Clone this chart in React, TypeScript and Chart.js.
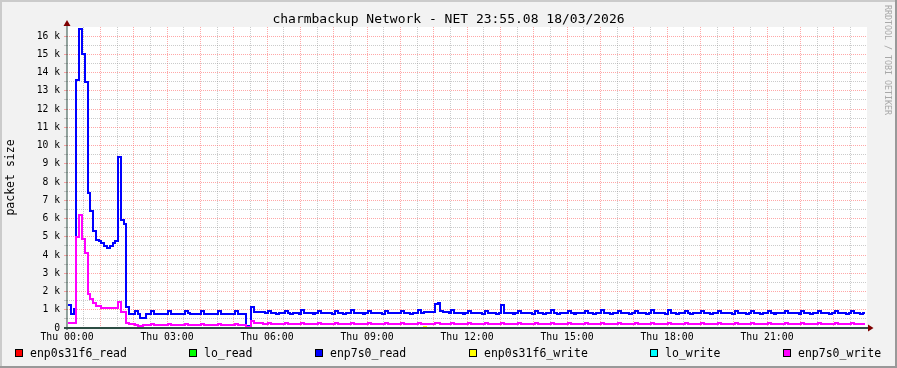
import React, { useEffect, useRef } from 'react';
import { Chart, registerables } from 'chart.js';

Chart.register(...registerables);

const TITLE = 'charmbackup Network - NET 23:55.08 18/03/2026';
const Y_TITLE = 'packet size';
const WATERMARK = 'RRDTOOL / TOBI OETIKER';

const SERIES_NAMES = ['enp0s31f6_read', 'lo_read', 'enp7s0_read', 'enp0s31f6_write', 'lo_write', 'enp7s0_write'];
const SERIES_COLORS = ['#FF0000', '#00FF00', '#0000FF', '#FFFF00', '#00FFFF', '#FF00FF'];

const X_TICK_LABELS = ['Thu 00:00', 'Thu 03:00', 'Thu 06:00', 'Thu 09:00', 'Thu 12:00', 'Thu 15:00', 'Thu 18:00', 'Thu 21:00'];
const X_MIN = 0;
const X_MAX = 1440; // minutes in the day
const Y_MIN = 0;
const Y_MAX = 16500;

// 5-minute samples (minutes from Thu 00:00)
const SAMPLE_START_MIN = 2;
const SAMPLE_STEP_MIN = 5;

// enp7s0_read, one row per hour (12 samples)
const ENP7S0_READ = [
  1250, 750, 1050, 13600, 16400, 15000, 13500, 7400, 6400, 5300, 4850, 4750,
  4650, 4500, 4400, 4500, 4650, 4750, 9400, 5900, 5700, 1150, 780, 760,
  950, 760, 550, 550, 780, 770, 930, 780, 760, 790, 780, 770,
  930, 780, 790, 760, 780, 790, 940, 800, 780, 760, 790, 780,
  930, 790, 780, 770, 790, 780, 940, 790, 780, 760, 770, 790,
  930, 780, 790, 780, 100, 100, 1150, 880, 880, 870, 860, 800,
  950, 800, 800, 790, 800, 800, 940, 800, 790, 800, 800, 790,
  1000, 810, 800, 800, 790, 800, 940, 800, 800, 810, 800, 790,
  940, 800, 800, 790, 800, 800, 990, 810, 800, 800, 790, 800,
  940, 800, 810, 800, 800, 790, 940, 800, 800, 810, 800, 800,
  940, 800, 800, 790, 800, 800, 990, 820, 850, 850, 860, 850,
  1300, 1380, 950, 880, 880, 820, 960, 810, 800, 800, 790, 800,
  940, 800, 800, 810, 800, 790, 940, 800, 800, 800, 790, 800,
  1270, 810, 800, 800, 790, 800, 940, 800, 800, 810, 800, 790,
  940, 800, 800, 790, 800, 800, 1000, 800, 790, 800, 800, 800,
  940, 800, 790, 800, 800, 810, 940, 800, 800, 790, 800, 800,
  1000, 800, 800, 790, 800, 800, 940, 800, 810, 800, 790, 800,
  940, 800, 800, 800, 790, 800, 1000, 800, 800, 810, 800, 790,
  960, 800, 800, 790, 800, 800, 940, 800, 790, 800, 800, 800,
  940, 800, 800, 790, 800, 800, 940, 800, 800, 810, 800, 790,
  940, 800, 800, 800, 790, 800, 940, 800, 800, 790, 800, 800,
  940, 800, 790, 800, 800, 800, 940, 800, 800, 810, 800, 790,
  940, 800, 800, 790, 800, 800, 940, 800, 800, 800, 790, 800,
  940, 800, 800, 800, 790, 800, 940, 800, 800, 790, 800,
];

// enp7s0_write, one row per hour (12 samples)
const ENP7S0_WRITE = [
  300, 250, 250, 5000, 6200, 4900, 4100, 1850, 1600, 1350, 1200, 1200,
  1100, 1100, 1100, 1100, 1100, 1100, 1400, 850, 850, 250, 220, 210,
  180, 130, 130, 170, 180, 190, 210, 190, 190, 180, 190, 190,
  210, 190, 190, 180, 190, 190, 210, 190, 190, 190, 180, 190,
  210, 190, 190, 190, 180, 190, 210, 190, 190, 190, 190, 180,
  210, 190, 190, 190, 30, 30, 380, 290, 270, 250, 240, 230,
  260, 230, 230, 220, 230, 230, 260, 230, 220, 230, 230, 230,
  260, 230, 230, 230, 220, 230, 260, 230, 230, 220, 230, 230,
  260, 230, 220, 230, 230, 230, 260, 230, 230, 230, 220, 230,
  260, 230, 230, 220, 230, 230, 260, 230, 220, 230, 230, 230,
  260, 230, 230, 230, 220, 230, 260, 230, 230, 220, 230, 230,
  270, 260, 240, 230, 230, 230, 260, 230, 230, 220, 230, 230,
  260, 230, 220, 230, 230, 230, 260, 230, 230, 230, 220, 230,
  270, 230, 230, 220, 230, 230, 260, 230, 220, 230, 230, 230,
  260, 230, 230, 230, 220, 230, 260, 230, 230, 220, 230, 230,
  260, 230, 220, 230, 230, 230, 260, 230, 230, 230, 220, 230,
  260, 230, 230, 220, 230, 230, 260, 230, 220, 230, 230, 230,
  260, 230, 230, 230, 220, 230, 260, 230, 230, 220, 230, 230,
  260, 230, 220, 230, 230, 230, 260, 230, 230, 230, 220, 230,
  260, 230, 230, 220, 230, 230, 260, 230, 220, 230, 230, 230,
  260, 230, 230, 230, 220, 230, 260, 230, 230, 220, 230, 230,
  260, 230, 220, 230, 230, 230, 260, 230, 230, 230, 220, 230,
  260, 230, 230, 220, 230, 230, 260, 230, 220, 230, 230, 230,
  260, 230, 230, 230, 220, 230, 260, 230, 230, 220, 230,
];

// the remaining interfaces are flat at zero, except one small write sample
const ENP0S31F6_WRITE_NONZERO: [number, number][] = [[128, 50]];
const ZERO_VALUE = 0;

const SAMPLE_COUNT = ENP7S0_READ.length;

function zeroSeries(nonzero: [number, number][] = []): number[] {
  const arr: number[] = [];
  for (let i = 0; i < SAMPLE_COUNT; i++) arr.push(ZERO_VALUE);
  nonzero.forEach(([i, v]) => { arr[i] = v; });
  return arr;
}

function toPoints(values: number[]) {
  const pts = values.map((v, i) => ({ x: SAMPLE_START_MIN + i * SAMPLE_STEP_MIN, y: v }));
  // closing point so the last step is drawn to its end
  pts.push({ x: SAMPLE_START_MIN + values.length * SAMPLE_STEP_MIN, y: values[values.length - 1] });
  return pts;
}

const SERIES_VALUES: number[][] = [
  zeroSeries(),
  zeroSeries(),
  ENP7S0_READ,
  zeroSeries(ENP0S31F6_WRITE_NONZERO),
  zeroSeries(),
  ENP7S0_WRITE,
];

const MONO = "'DejaVu Sans Mono', monospace";
const MAJOR_GRID = 'rgba(255, 95, 95, 0.55)';
const MINOR_GRID = 'rgba(140, 140, 140, 0.45)';
const AXIS_COLOR = '#2C4D43';
const ARROW_COLOR = '#7F0000';

const rrdPlugin = {
  id: 'rrdDecor',
  beforeDraw(chart: any) {
    const { ctx, chartArea: a, width, height } = chart;
    ctx.save();
    ctx.fillStyle = '#f2f2f2';
    ctx.fillRect(0, 0, width, height);
    ctx.fillStyle = '#cbcbcb';
    ctx.fillRect(0, 0, width, 2);
    ctx.fillRect(0, 0, 2, height);
    ctx.fillStyle = '#999999';
    ctx.fillRect(0, height - 2, width, 2);
    ctx.fillRect(width - 2, 0, 2, height);
    ctx.fillStyle = '#ffffff';
    ctx.fillRect(a.left, a.top, a.right - a.left, a.bottom - a.top);
    ctx.restore();
  },
  beforeDatasetsDraw(chart: any) {
    // snap step corners to the pixel grid so 2px lines render crisp, like rrdtool
    chart.data.datasets.forEach((_: any, i: number) => {
      const meta = chart.getDatasetMeta(i);
      meta.data.forEach((p: any) => {
        p.x = Math.round(p.x);
        p.y = Math.round(p.y);
      });
    });
  },
  afterDatasetsDraw(chart: any) {
    const { ctx, chartArea: a } = chart;
    ctx.save();
    ctx.strokeStyle = AXIS_COLOR;
    // x axis
    ctx.lineWidth = 2;
    ctx.beginPath();
    ctx.moveTo(a.left - 3, a.bottom);
    ctx.lineTo(a.right + 2, a.bottom);
    ctx.stroke();
    // y axis
    ctx.lineWidth = 1;
    ctx.beginPath();
    ctx.moveTo(a.left, a.bottom + 2);
    ctx.lineTo(a.left, a.top - 4);
    ctx.stroke();
    // arrows
    ctx.fillStyle = ARROW_COLOR;
    ctx.beginPath();
    ctx.moveTo(a.left, a.top - 7);
    ctx.lineTo(a.left - 3.5, a.top - 1);
    ctx.lineTo(a.left + 3.5, a.top - 1);
    ctx.closePath();
    ctx.fill();
    ctx.beginPath();
    ctx.moveTo(a.right + 6.5, a.bottom);
    ctx.lineTo(a.right + 1, a.bottom - 3.5);
    ctx.lineTo(a.right + 1, a.bottom + 3.5);
    ctx.closePath();
    ctx.fill();
    ctx.restore();
  },
  afterDraw(chart: any) {
    const { ctx, chartArea: a, width } = chart;
    ctx.save();
    ctx.fillStyle = '#000000';
    // title
    ctx.font = `13px ${MONO}`;
    ctx.textAlign = 'center';
    ctx.textBaseline = 'middle';
    ctx.fillText(TITLE, width / 2, 20);
    // y title
    ctx.save();
    ctx.translate(11, (a.top + a.bottom) / 2);
    ctx.rotate(-Math.PI / 2);
    ctx.font = `11.5px ${MONO}`;
    ctx.fillText(Y_TITLE, 0, 0);
    ctx.restore();
    // watermark
    ctx.save();
    ctx.translate(887, 5);
    ctx.rotate(Math.PI / 2);
    ctx.font = `8.3px ${MONO}`;
    ctx.fillStyle = '#a8a8a8';
    ctx.textAlign = 'left';
    ctx.fillText(WATERMARK, 0, 0);
    ctx.restore();
    // legend
    const legendX = [15, 189, 315, 469, 650, 783];
    ctx.font = `11.5px ${MONO}`;
    ctx.textAlign = 'left';
    ctx.textBaseline = 'middle';
    SERIES_NAMES.forEach((name, i) => {
      const x = legendX[i];
      ctx.fillStyle = SERIES_COLORS[i];
      ctx.fillRect(x, 349, 8, 8);
      ctx.strokeStyle = '#000000';
      ctx.lineWidth = 1;
      ctx.strokeRect(x + 0.5, 349.5, 7, 7);
      ctx.fillStyle = '#000000';
      ctx.fillText(name, x + 15, 354);
    });
    ctx.restore();
  },
};

export default function App() {
  const canvasRef = useRef<HTMLCanvasElement | null>(null);

  useEffect(() => {
    document.body.style.margin = '0';
    const canvas = canvasRef.current;
    if (!canvas) return;
    const order = [6, 5, 4, 3, 2, 1];
    const chart = new Chart(canvas, {
      type: 'line',
      data: {
        datasets: SERIES_VALUES.map((vals, i) => ({
          label: SERIES_NAMES[i],
          data: toPoints(vals),
          borderColor: SERIES_COLORS[i],
          backgroundColor: SERIES_COLORS[i],
          borderWidth: 2,
          pointRadius: 0,
          stepped: true,
          fill: false,
          order: order[i],
          borderJoinStyle: 'miter',
          borderCapStyle: 'butt',
        })),
      },
      plugins: [rrdPlugin],
      options: {
        animation: false,
        responsive: false,
        devicePixelRatio: 1,
        layout: { padding: { top: 27, left: 0, right: 30, bottom: 0 } },
        plugins: {
          legend: { display: false },
          title: { display: false },
          tooltip: { enabled: false },
        },
        scales: {
          x: {
            type: 'linear',
            min: X_MIN,
            max: X_MAX,
            afterFit: (s: any) => { s.height = 40; },
            afterBuildTicks: (s: any) => {
              const t = [];
              for (let v = X_MIN; v <= X_MAX; v += 30) t.push({ value: v });
              s.ticks = t;
            },
            ticks: {
              autoSkip: false,
              maxRotation: 0,
              padding: 3.5,
              color: '#000000',
              font: { family: MONO, size: 9.8 },
              callback: (v: any) => {
                const n = Number(v);
                if (n % 180 !== 0 || n >= X_MAX) return '';
                return X_TICK_LABELS[n / 180];
              },
            },
            grid: {
              drawTicks: false,
              color: (ctx: any) => {
                const v = ctx.tick ? ctx.tick.value : 0;
                if (v <= X_MIN || v >= X_MAX) return 'rgba(0,0,0,0)';
                return v % 60 === 0 ? MAJOR_GRID : MINOR_GRID;
              },
            },
            border: { display: false, dash: [1, 1] },
          },
          y: {
            type: 'linear',
            min: Y_MIN,
            max: Y_MAX,
            afterFit: (s: any) => { s.width = 67; },
            afterBuildTicks: (s: any) => {
              const t = [];
              for (let v = Y_MIN; v <= Y_MAX; v += 500) t.push({ value: v });
              s.ticks = t;
            },
            ticks: {
              autoSkip: false,
              padding: 4,
              color: '#000000',
              font: { family: MONO, size: 9.7 },
              callback: (v: any) => {
                const n = Number(v);
                if (n % 1000 !== 0) return '';
                return n === 0 ? '0' : `${n / 1000} k`;
              },
            },
            grid: {
              drawTicks: true,
              tickLength: 3,
              color: (ctx: any) => {
                const v = ctx.tick ? ctx.tick.value : 0;
                if (v <= Y_MIN || v >= Y_MAX) return 'rgba(0,0,0,0)';
                return v % 1000 === 0 ? MAJOR_GRID : MINOR_GRID;
              },
              tickColor: (ctx: any) => {
                const v = ctx.tick ? ctx.tick.value : 0;
                if (v >= Y_MAX) return 'rgba(0,0,0,0)';
                return v % 1000 === 0 ? MAJOR_GRID : MINOR_GRID;
              },
            },
            border: { display: false, dash: [1, 1] },
          },
        },
      } as any,
    });
    return () => chart.destroy();
  }, []);

  return (
    <div style={{ position: 'fixed', left: 0, top: 0, width: 897, height: 368 }}>
      <canvas ref={canvasRef} width={897} height={368} style={{ display: 'block' }} />
    </div>
  );
}
